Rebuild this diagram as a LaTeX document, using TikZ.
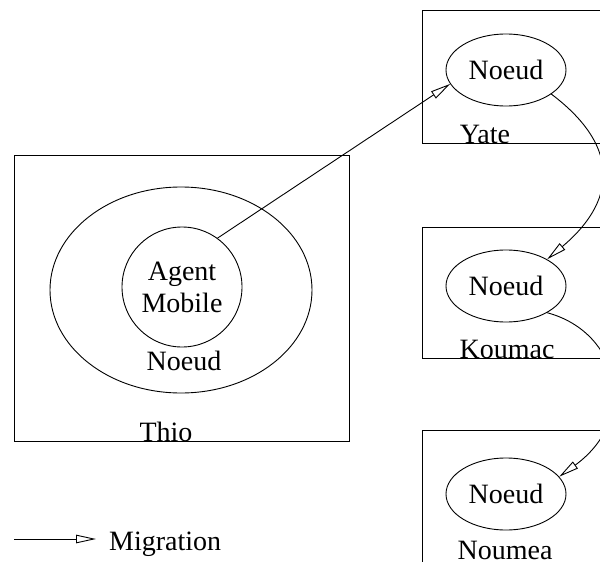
\documentclass[tikz,border=0pt]{standalone}
\usepackage{fontspec}
\setmainfont{Liberation Serif}
\usetikzlibrary{shapes.geometric,arrows.meta}

\tikzset{
  every node/.style={font=\fontsize{28}{32}\selectfont},
  line/.style={line width=0.9pt},
  site/.style={line, draw, rectangle, inner sep=0pt},
  noeud/.style={line, draw, ellipse, inner sep=0pt, minimum width=120pt, minimum height=72pt},
  label/.style={anchor=base, inner sep=0pt},
  mig/.style={line, -{Triangle[open, length=20pt, width=8.5pt]}},
}

\begin{document}
\begin{tikzpicture}[x=1pt, y=-1pt]
  \useasboundingbox (0,0) rectangle (600,562);
  \clip (0,0) rectangle (600,562);

  % Thio site with its node and the mobile agent
  \node[site, minimum width=335pt, minimum height=286pt] (thio) at (181.5,298) {};
  \node[label] (thiolbl) at (166,441) {Thio};
  \node[line, draw, ellipse, inner sep=0pt, minimum width=262pt, minimum height=206pt] (thionode) at (181,290) {};
  \node[line, draw, circle, inner sep=0pt, minimum size=120pt, align=center] (agent) at (182,287) {Agent\\Mobile};
  \node[label] (thionoeud) at (184,370) {Noeud};

  % Remote sites
  \node[site, minimum width=218pt, minimum height=133pt] (yatebox) at (531,76.5) {};
  \node[label] (yatelbl) at (485,143) {Yate};
  \node[noeud] (yate) at (506,70) {Noeud};

  \node[site, minimum width=218pt, minimum height=131pt] (koumacbox) at (531,292.5) {};
  \node[label] (koumaclbl) at (507,358) {Koumac};
  \node[noeud] (koumac) at (506,286) {Noeud};

  \node[site, minimum width=218pt, minimum height=170pt] (noumeabox) at (531,515) {};
  \node[label] (noumealbl) at (505,559) {Noumea};
  \node[noeud] (noumea) at (506,494) {Noeud};

  % Migrations
  \draw[mig] (agent.54) -- (yate.194);
  \draw[mig] (yate.-28) to[out=-37, in=40, out distance=90pt, in distance=88pt] (koumac.33);
  \draw[mig] (koumac.-33) to[out=-15, in=36, out distance=75pt, in distance=99pt] (noumea.18);

  % Legend
  \coordinate (leg0) at (14,539);
  \coordinate (leg1) at (96,539);
  \draw[mig] (leg0) -- (leg1);
  \node[anchor=base west, inner sep=0pt] (legtxt) at (109,550) {Migration};
\end{tikzpicture}
\end{document}
